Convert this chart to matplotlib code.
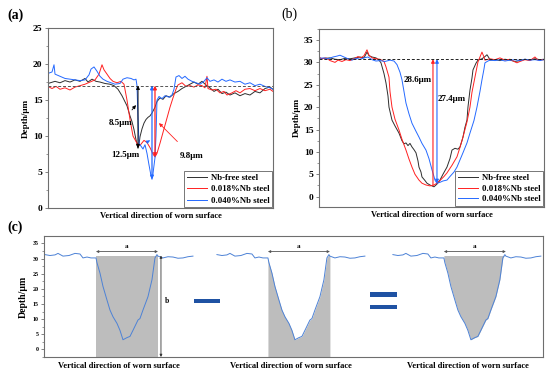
import numpy as np
import matplotlib
matplotlib.use('Agg')
import matplotlib.pyplot as plt
from matplotlib.patches import Rectangle
from matplotlib.ticker import MultipleLocator

plt.rcParams['font.family'] = ['Liberation Serif', 'DejaVu Serif']
plt.rcParams['font.weight'] = 'bold'

# ---- (a) profiles, x = position along the scan (arbitrary units) ----
xa_free = [0, 7, 12, 17, 22, 27, 32, 37, 40, 44, 48, 52, 57, 62, 66, 70, 74, 79, 82, 84,
           86, 88, 90, 91, 92, 94, 96, 98, 100, 102, 104, 107, 109, 112, 115, 118, 122, 126, 130, 134,
           138, 142, 146, 150, 154, 158, 162, 166, 170, 174, 178, 182, 187, 192, 197, 202, 207, 212, 217, 222,
           225]
ya_free = [17.3, 17.6, 17.4, 17.7, 17.5, 17.8, 17.6, 18.0, 17.5, 17.9, 17.6, 17.5, 17.3, 17.2, 17.0, 16.5, 15.6, 14.2, 12.8, 12.0,
           10.9, 9.5, 8.3, 8.8, 9.9, 11.0, 11.8, 12.3, 12.6, 12.8, 13.2, 14.0, 14.8, 15.3, 15.1, 15.6, 15.4, 15.9, 16.2, 16.6,
           16.9, 17.2, 17.5, 17.2, 17.6, 17.1, 16.7, 16.2, 16.5, 15.9, 16.1, 15.7, 16.0, 15.6, 15.9, 15.7, 16.2, 16.0, 16.6, 16.8,
           16.5]
xa_018 = [0, 4, 8, 12, 17, 22, 27, 32, 37, 42, 47, 51, 54, 56, 59, 62, 65, 69, 73, 76,
          79, 82, 85, 89, 92, 96, 99, 102, 105, 107, 109, 112, 116, 119, 122, 125, 128, 130, 134, 138,
          142, 146, 150, 154, 157, 159, 160, 164, 168, 172, 176, 179, 184, 188, 192, 197, 202, 207, 212, 217,
          222, 225]
ya_018 = [16.9, 16.6, 16.9, 16.5, 16.7, 16.4, 16.8, 17.0, 17.2, 17.5, 17.8, 18.6, 19.9, 19.2, 18.6, 18.0, 17.6, 17.4, 17.6, 17.2,
          15.0, 12.3, 10.0, 9.0, 8.7, 9.4, 9.1, 8.4, 7.5, 7.1, 7.6, 9.0, 11.0, 12.5, 14.0, 15.3, 16.5, 17.1, 17.4, 16.9,
          17.0, 16.8, 17.1, 17.0, 16.7, 18.3, 16.6, 16.4, 16.5, 16.0, 16.2, 15.7, 16.0, 16.3, 16.0, 16.5, 16.6, 16.3, 16.6, 16.3,
          16.5, 16.2]
xa_040 = [0, 4, 6, 7, 12, 17, 22, 27, 32, 37, 41, 43, 46, 49, 52, 55, 59, 63, 67, 72,
          75, 79, 83, 86, 88, 89, 90, 91, 93, 95, 97, 99, 101, 103, 104, 105, 107, 108, 109, 111,
          114, 117, 121, 124, 126, 128, 131, 134, 137, 140, 144, 148, 152, 156, 159, 162, 166, 170, 174, 178,
          182, 187, 192, 197, 202, 207, 212, 217, 222, 225]
ya_040 = [18.7, 18.9, 19.9, 18.6, 18.3, 18.0, 17.9, 17.8, 17.7, 17.8, 18.5, 19.3, 19.6, 19.0, 18.3, 17.9, 17.6, 17.4, 17.2, 17.3,
          17.9, 18.1, 18.0, 17.8, 17.9, 17.0, 12.5, 9.0, 8.6, 8.2, 8.8, 7.6, 6.0, 4.5, 4.0, 4.8, 7.0, 10.0, 15.0, 15.5,
          15.2, 15.6, 15.4, 15.7, 16.5, 18.2, 18.4, 18.0, 18.3, 17.9, 17.6, 17.4, 17.2, 17.6, 18.1, 17.6, 17.8, 17.5, 17.9, 17.6,
          17.8, 17.5, 17.6, 17.2, 17.4, 17.0, 17.2, 16.9, 16.7, 16.5]

# ---- (b) profiles ----
xb_free = [0, 6, 11, 16, 21, 26, 31, 36, 41, 45, 48, 50, 53, 57, 60, 62, 65, 67, 69, 70,
           73, 76, 80, 83, 85, 87, 89, 91, 93, 95, 97, 99, 100, 102, 103, 106, 108, 111, 115, 118,
           121, 124, 128, 131, 133, 136, 139, 141, 143, 144, 146, 148, 149, 151, 153, 154, 157, 159, 163, 166,
           168, 170, 171, 176, 181, 186, 191, 196, 201, 206, 211, 216, 221, 225]
yb_free = [30.8, 30.9, 31.0, 30.7, 30.6, 30.9, 30.8, 31.0, 31.2, 31.0, 32.3, 31.5, 31.2, 31.0, 30.5, 29.9, 27.5, 25.4, 22.5, 20.0,
           17.1, 15.8, 14.2, 12.5, 11.8, 12.0, 11.4, 11.9, 11.1, 10.5, 9.8, 8.0, 6.6, 5.5, 4.4, 3.6, 3.0, 2.6, 2.2, 2.8,
           3.7, 5.0, 6.6, 8.5, 10.4, 10.8, 10.6, 11.1, 12.5, 13.3, 15.5, 17.1, 20.0, 23.8, 26.5, 28.3, 29.8, 30.5, 30.8, 31.3,
           31.7, 31.0, 30.5, 30.6, 30.4, 30.7, 30.5, 30.2, 30.4, 30.7, 30.5, 30.8, 30.6, 30.7]
xb_018 = [0, 3, 7, 11, 16, 19, 23, 27, 31, 35, 39, 42, 45, 48, 50, 53, 57, 61, 65, 67,
          70, 71, 73, 76, 80, 83, 87, 90, 93, 96, 100, 103, 107, 111, 115, 118, 121, 125, 128, 133,
          138, 141, 144, 148, 151, 153, 156, 159, 161, 163, 165, 166, 171, 176, 181, 186, 191, 196, 198, 201,
          206, 211, 216, 219, 225]
yb_018 = [31.2, 30.8, 31.0, 30.4, 30.0, 30.5, 30.2, 30.6, 30.4, 30.8, 31.3, 31.0, 31.5, 32.8, 31.6, 31.0, 30.8, 30.7, 30.2, 29.0,
          26.7, 23.5, 20.0, 17.3, 14.9, 12.8, 10.4, 8.4, 6.6, 5.0, 3.7, 3.0, 2.6, 2.4, 2.6, 3.0, 3.6, 4.5, 5.3, 7.0,
          8.9, 11.0, 13.3, 16.7, 20.0, 23.3, 26.7, 30.1, 31.2, 32.3, 31.2, 30.5, 30.8, 30.6, 31.0, 30.5, 30.7, 30.1, 29.9, 30.2,
          30.6, 30.4, 31.2, 30.5, 30.6]
xb_040 = [0, 5, 9, 14, 18, 21, 25, 29, 33, 37, 41, 45, 49, 53, 57, 61, 66, 71, 75, 78,
          81, 83, 85, 87, 90, 93, 97, 100, 103, 107, 110, 113, 115, 116, 118, 121, 124, 128, 131, 135,
          138, 141, 144, 148, 151, 155, 158, 161, 163, 165, 166, 169, 171, 176, 181, 186, 191, 196, 201, 206,
          211, 216, 221, 225]
yb_040 = [30.9, 31.0, 30.8, 31.2, 31.4, 31.6, 31.2, 30.8, 30.5, 30.9, 30.7, 31.0, 31.2, 30.6, 30.3, 30.4, 30.2, 30.5, 30.3, 29.5,
          27.8, 26.1, 23.5, 20.9, 18.5, 16.4, 14.6, 13.3, 11.9, 10.4, 8.5, 6.0, 4.5, 3.7, 3.0, 3.2, 3.5, 3.7, 4.5, 5.5,
          6.6, 8.2, 9.8, 12.0, 14.2, 17.0, 20.0, 23.5, 26.1, 28.5, 29.9, 30.3, 30.5, 30.4, 30.6, 30.3, 30.5, 30.6, 30.4, 30.7,
          30.5, 30.6, 30.4, 30.6]

# ---- (c) single profile reused three times ----
xc = [0, 5, 10, 13, 18, 24, 30, 35, 38, 42, 46, 51, 52, 55, 58, 62, 65, 68, 72, 75,
      78, 82, 85, 88, 93, 95, 98, 103, 107, 110, 112, 113, 118, 123, 128, 133, 138, 143, 148]
yc = [31.3, 31.0, 31.2, 31.7, 30.8, 31.0, 31.7, 31.5, 30.2, 30.5, 30.2, 30.2, 28.6, 25.2, 20.8, 16.3, 13.0, 10.8, 8.6, 6.3,
      3.2, 3.9, 4.3, 6.3, 9.7, 10.2, 13.0, 17.4, 23.0, 30.2, 31.3, 30.8, 30.2, 30.6, 30.5, 30.1, 30.2, 30.6, 30.8]

labels = ['Nb-free steel', '0.018%Nb steel', '0.040%Nb steel']
cols = ['#2e2e2e', '#ff2020', '#2469ff']
spine_col = '#6e6e6e'

fig = plt.figure(figsize=(5.5, 3.79), dpi=100)


def style(ax, fs=6.8):
    for s in ax.spines.values():
        s.set_color(spine_col)
        s.set_linewidth(0.8)
    ax.set_xticks([])
    ax.yaxis.set_minor_locator(MultipleLocator(2.5))
    ax.tick_params(axis='y', which='major', direction='out', length=2.5, width=0.6,
                   color=spine_col, labelsize=fs, pad=1.5)
    ax.tick_params(axis='y', which='minor', direction='out', length=1.5, width=0.5, color=spine_col)
    for t in ax.get_yticklabels():
        t.set_fontweight('bold')


def vlabel(ax, text):
    ax.set_xlabel(text, fontsize=6.1, fontweight='bold', labelpad=3)
    ax.set_ylabel('Depth/μm', fontsize=6.6, fontweight='bold', labelpad=2)


# (a)
ax = fig.add_axes([0.0873, 0.451, 0.409, 0.475])
for x, y, c, l in zip([xa_free, xa_018, xa_040], [ya_free, ya_018, ya_040], cols, labels):
    ax.plot(x, y, color=c, lw=0.7, label=l)
ax.axhline(17.0, color='#555555', lw=0.7, ls=(0, (3, 2)))
ax.set_xlim(0, 225)
ax.set_ylim(0, 25)
ax.set_yticks([0, 5, 10, 15, 20, 25])
style(ax)
vlabel(ax, 'Vertical direction of worn surface')
ax.annotate('', xy=(90, 17.0), xytext=(90, 8.3),
            arrowprops=dict(arrowstyle='<|-|>', color='black', lw=0.7, mutation_scale=5, shrinkA=0, shrinkB=0))
ax.annotate('', xy=(104, 17.0), xytext=(104, 4.0),
            arrowprops=dict(arrowstyle='<|-|>', color='#2469ff', lw=0.9, mutation_scale=5, shrinkA=0, shrinkB=0))
ax.annotate('', xy=(107, 17.0), xytext=(107, 7.1),
            arrowprops=dict(arrowstyle='<|-|>', color='#ff2020', lw=0.9, mutation_scale=5, shrinkA=0, shrinkB=0))
ax.annotate('8.5μm', xy=(88, 14.3), xytext=(73, 11.8), fontsize=6.5, fontweight='bold', ha='center', va='center',
            arrowprops=dict(arrowstyle='-|>', color='black', lw=0.6, mutation_scale=5, shrinkA=6, shrinkB=0))
ax.annotate('12.5μm', xy=(102, 9.4), xytext=(77, 7.4), fontsize=6.5, fontweight='bold', ha='center', va='center',
            arrowprops=dict(arrowstyle='-|>', color='#2469ff', lw=0.6, mutation_scale=5, shrinkA=10, shrinkB=0))
ax.annotate('9.8μm', xy=(111, 11.8), xytext=(144, 7.2), fontsize=6.5, fontweight='bold', ha='center', va='center',
            arrowprops=dict(arrowstyle='-|>', color='#ff2020', lw=0.6, mutation_scale=5, shrinkA=8, shrinkB=0))
lg = ax.legend(loc='lower right', fontsize=6.3, handlelength=2.3, labelspacing=0.35, borderpad=0.3,
               handletextpad=0.4, borderaxespad=0.1, fancybox=False, framealpha=1)
lg.get_frame().set_edgecolor('#777777')
lg.get_frame().set_linewidth(0.7)
for t in lg.get_texts():
    t.set_fontweight('bold')

# (b)
ax = fig.add_axes([0.58, 0.454, 0.409, 0.470])
for x, y, c, l in zip([xb_free, xb_018, xb_040], [yb_free, yb_018, yb_040], cols, labels):
    ax.plot(x, y, color=c, lw=0.7, label=l)
ax.axhline(30.7, color='#222222', lw=0.7, ls=(0, (3, 2)))
ax.set_xlim(0, 225)
ax.set_ylim(-2.3, 37.5)
ax.set_yticks([0, 5, 10, 15, 20, 25, 30, 35])
style(ax)
vlabel(ax, 'Vertical direction of worn surface')
ax.annotate('', xy=(114, 30.7), xytext=(114, 2.4),
            arrowprops=dict(arrowstyle='-|>', color='#ff2020', lw=0.8, mutation_scale=5, shrinkA=0, shrinkB=0))
ax.annotate('', xy=(118, 30.7), xytext=(118, 3.0),
            arrowprops=dict(arrowstyle='<|-|>', color='#2469ff', lw=0.8, mutation_scale=5, shrinkA=0, shrinkB=0))
ax.text(113, 26.1, '28.6μm', fontsize=6.5, fontweight='bold', ha='right', va='center')
ax.text(119, 21.8, '27.4μm', fontsize=6.5, fontweight='bold', ha='left', va='center')
lg = ax.legend(loc='lower right', fontsize=6.3, handlelength=2.3, labelspacing=0.3, borderpad=0.3,
               handletextpad=0.4, borderaxespad=0.1, fancybox=False, framealpha=1)
lg.get_frame().set_edgecolor('#777777')
lg.get_frame().set_linewidth(0.7)
for t in lg.get_texts():
    t.set_fontweight('bold')

# (c)
ax = fig.add_axes([0.08, 0.058, 0.907, 0.319])
ax.set_xlim(0, 499)
ax.set_ylim(-2.5, 37.4)
ax.set_yticks([0, 5, 10, 15, 20, 25, 30, 35])
style(ax, fs=4.3)
ax.set_ylabel('Depth/μm', fontsize=7, fontweight='bold', labelpad=3)
xc_arr = np.array(xc)
yc_arr = np.array(yc)
top = 31.0
gray = '#bdbdbd'
inside = (xc_arr >= 51) & (xc_arr <= 113)
for k, off in enumerate([1, 173, 349]):
    xs = xc_arr + off
    if k == 0:
        ax.add_patch(Rectangle((51 + off, -2.5), 62, top + 2.5, facecolor=gray, edgecolor='none'))
    elif k == 1:
        ax.fill_between(xs[inside], -2.5, yc_arr[inside], color=gray, lw=0)
    else:
        ax.fill_between(xs[inside], yc_arr[inside], top, color=gray, lw=0)
    ax.plot(xs, yc_arr, color='#4d82d6', lw=0.7)
    ax.annotate('', xy=(51 + off, 32.3), xytext=(113 + off, 32.3),
                arrowprops=dict(arrowstyle='<|-|>', color='#555555', lw=0.6, mutation_scale=3.5,
                                shrinkA=0, shrinkB=0))
    ax.text(82 + off, 34.0, 'a', fontsize=5, fontweight='bold', ha='center', va='center')
ax.annotate('', xy=(117, 31.0), xytext=(117, -2.5),
            arrowprops=dict(arrowstyle='<|-|>', color='#333333', lw=0.6, mutation_scale=3.5, shrinkA=0, shrinkB=0))
ax.text(123, 16.0, 'b', fontsize=5.5, fontweight='bold', ha='center', va='center')
sign = '#1f52a3'
ax.add_patch(Rectangle((150, 15.2), 26, 1.5, facecolor=sign, edgecolor='none'))
ax.add_patch(Rectangle((326, 17.3), 27, 1.6, facecolor=sign, edgecolor='none'))
ax.add_patch(Rectangle((326, 13.3), 27, 1.4, facecolor=sign, edgecolor='none'))

for xp in [119, 291, 468]:
    fig.text(xp / 550, 1 - 366 / 379, 'Vertical direction of worn surface', fontsize=6.1,
             fontweight='bold', ha='center', va='center')

fig.text(15 / 550, 1 - 15 / 379, '(a)', fontsize=10, fontweight='bold', ha='center', va='center')
fig.text(289 / 550, 1 - 14 / 379, '(b)', fontsize=10, fontweight='normal', ha='center', va='center')
fig.text(15 / 550, 1 - 227 / 379, '(c)', fontsize=10, fontweight='bold', ha='center', va='center')

fig.savefig('out.png', dpi=100)
